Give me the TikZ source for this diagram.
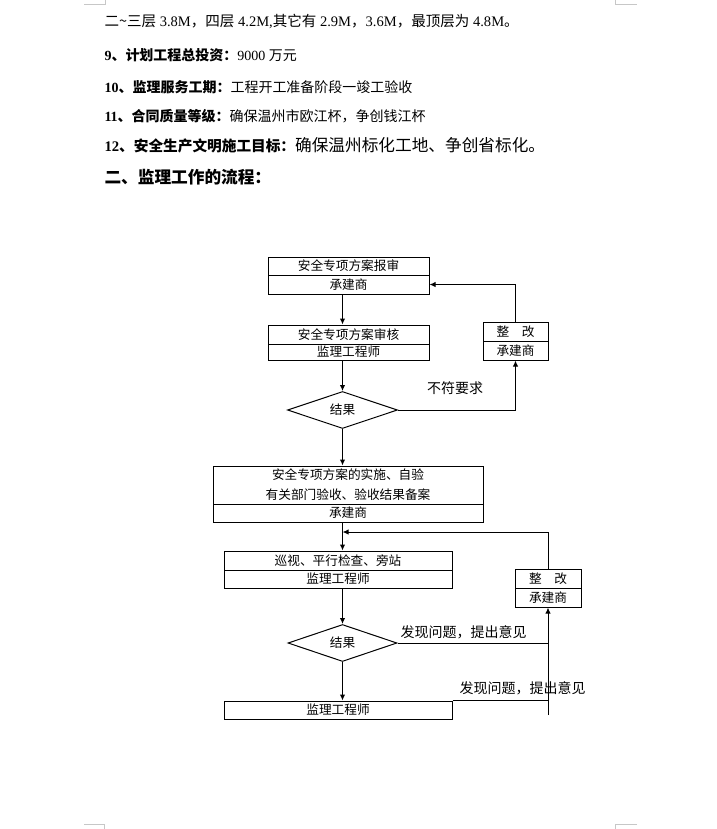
\documentclass[tikz,border=0pt]{standalone}
\usepackage{fontspec}
\setmainfont{Liberation Serif}
\newfontfamily\cjk{Noto Sans CJK SC}
\usetikzlibrary{arrows.meta,shapes.geometric}
\newcommand\zh[1]{{\cjk #1}}
\begin{document}
\begin{tikzpicture}[x=0.75pt,y=-0.75pt,
  line width=0.75pt,
  box/.style={draw, inner sep=0pt, align=center, font=\cjk\fontsize{9.5}{15}\selectfont},
  dia/.style={draw, diamond, inner sep=0pt, font=\cjk\fontsize{9.5}{11}\selectfont},
  arr/.style={-{Latex[length=4.5pt,width=4pt]}},
  lbl/.style={inner sep=0pt, font=\cjk\fontsize{10.5}{12}\selectfont},
  hd/.style={anchor=base west, inner sep=0pt, font=\fontsize{10.5}{12}\selectfont},
  cornermark/.style={draw=black!22, line width=0.75pt}]
\useasboundingbox (0,0) rectangle (717,829);
% page corner marks
\draw[cornermark] (84,4) -- (105,4) -- (105,0);
\draw[cornermark] (615,0) -- (615,4) -- (637,4);
\draw[cornermark] (84,824) -- (104,824) -- (104,829);
\draw[cornermark] (637,824) -- (615,824) -- (615,829);
% header text
\node[hd, font=\fontsize{10.9}{12}\selectfont] (h1) at (104,26) {\zh{二\textasciitilde 三层} 3.8M\zh{，四层} 4.2M,\zh{其它有} 2.9M\zh{，}3.6M\zh{，最顶层为} 4.8M\zh{。}};
\node[hd] (h2) at (104,60) {{\bfseries 9\zh{、计划工程总投资：}}9000 \zh{万元}};
\node[hd] (h3) at (104,92) {{\bfseries 10\zh{、监理服务工期：}}\zh{工程开工准备阶段一竣工验收}};
\node[hd] (h4) at (104,121) {{\bfseries 11\zh{、合同质量等级：}}\zh{确保温州市欧江杯，争创钱江杯}};
\node[hd, font=\fontsize{11}{12}\selectfont] (h5) at (104,151) {{\bfseries 12\zh{、安全生产文明施工目标：}}{\cjk\fontsize{12.5}{14}\selectfont 确保温州标化工地、争创省标化。}};
\node[hd, font=\cjk\bfseries\fontsize{12.5}{14}\selectfont] (h6) at (104,183) {二、监理工作的流程：};
% flowchart nodes
\node[box, minimum width=120.75pt, minimum height=13.5pt] (b1t) at (348.5,266) {安全专项方案报审};
\node[box, minimum width=120.75pt, minimum height=14.25pt] (b1b) at (348.5,284.5) {承建商};
\node[box, minimum width=120.75pt, minimum height=14.25pt] (b2t) at (348.5,334.5) {安全专项方案审核};
\node[box, minimum width=120.75pt, minimum height=12pt] (b2b) at (348.5,352) {监理工程师};
\node[box, minimum width=48.75pt, minimum height=14.25pt] (z1t) at (515.5,331.5) {整\quad 改};
\node[box, minimum width=48.75pt, minimum height=14.25pt] (z1b) at (515.5,350.5) {承建商};
\node[dia, minimum width=82.5pt, minimum height=27pt] (d1) at (342.5,410) {结果};
\node[lbl] (l1) at (455,388) {不符要求};
\node[box, minimum width=202.5pt, minimum height=28.5pt] (b3t) at (348,485) {安全专项方案的实施、自验\\有关部门验收、验收结果备案};
\node[box, minimum width=202.5pt, minimum height=13.5pt] (b3b) at (348,513) {承建商};
\node[box, minimum width=171pt, minimum height=14.25pt] (b4t) at (338,560.5) {巡视、平行检查、旁站};
\node[box, minimum width=171pt, minimum height=13.5pt] (b4b) at (338,579) {监理工程师};
\node[box, minimum width=49.5pt, minimum height=14.25pt] (z2t) at (548,578.5) {整\quad 改};
\node[box, minimum width=49.5pt, minimum height=14.25pt] (z2b) at (548,597.5) {承建商};
\node[dia, minimum width=81.75pt, minimum height=27pt] (d2) at (342.5,643) {结果};
\node[lbl] (l2) at (463.5,632) {发现问题，提出意见};
\node[box, minimum width=171pt, minimum height=13.5pt] (b5) at (338,710) {监理工程师};
\node[lbl] (l3) at (522.5,688) {发现问题，提出意见};
\coordinate (m2) at (342.5,532);
\coordinate (v2) at (548,715);
% connectors
\draw[arr] (b1b.south -| d1.center) -- (b2t.north -| d1.center);
\draw[arr] (b2b.south -| d1.center) -- (d1.north);
\draw[arr] (d1.east) -| (z1b.south);
\draw[arr] (z1t.north) |- (b1b.east);
\draw[arr] (d1.south) -- (d1.south |- b3t.north);
\draw[arr] (b3b.south -| d1.center) -- (b4t.north -| d1.center);
\draw[arr] (z2t.north) |- (m2);
\draw[arr] (b4b.south -| d2.center) -- (d2.north);
\draw (d2.east) -- (d2.east -| z2b.south);
\draw[arr] (v2) -- (z2b.south);
\draw (b5.north east) -- (b5.north east -| z2b.south);
\draw[arr] (d2.south) -- (b5.north -| d2.center);
\end{tikzpicture}
\end{document}
